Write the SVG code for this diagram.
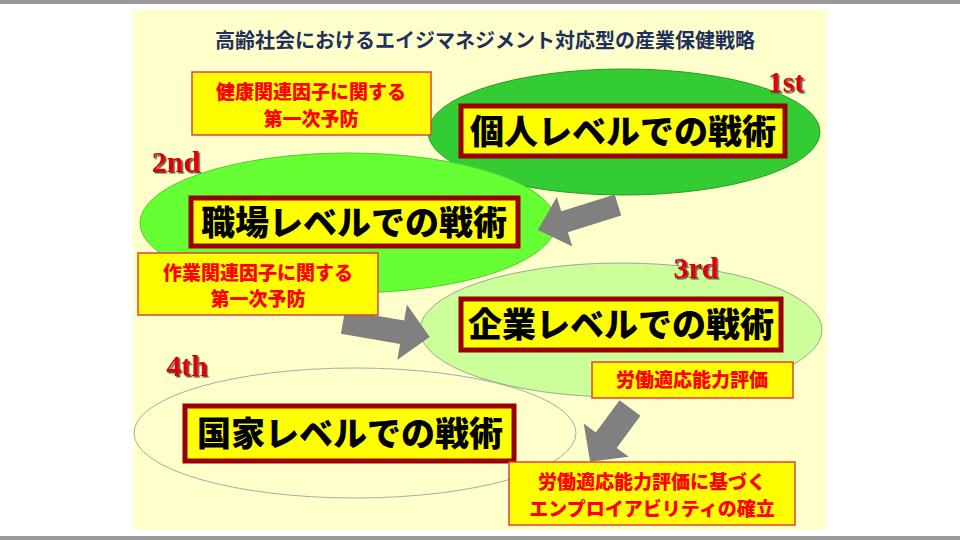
<svg xmlns="http://www.w3.org/2000/svg" width="960" height="540" viewBox="0 0 960 540">
<style>
.main{font-family:"Noto Sans CJK JP",sans-serif;font-weight:900;font-size:34px;fill:#000;text-anchor:middle}
.lab{font-family:"Noto Sans CJK JP",sans-serif;font-weight:900;font-size:19px;fill:#FF0000;text-anchor:middle}
.ord{font-family:"Liberation Serif",serif;font-weight:bold;font-size:30px;fill:#E00000;text-anchor:middle}
.box{fill:#FFFF00;stroke:#990000;stroke-width:5}
.lbox{fill:#FFFF00;stroke:#E04040;stroke-width:1.5}
.arr{fill:#808080}
</style>
<defs><filter id="sh"><feDropShadow dx="1.5" dy="1.5" stdDeviation="0.5" flood-color="#555"/></filter></defs>
<rect width="960" height="540" fill="#fff"/>
<rect x="0" y="0" width="960" height="4" fill="#999"/>
<rect x="0" y="536" width="960" height="4" fill="#999"/>
<rect x="133" y="10" width="694" height="520" fill="#FFFFCC"/>
<text x="485" y="48" style="font-family:'Noto Sans CJK JP',sans-serif;font-weight:bold;font-size:20px;fill:#1F2F5F;text-anchor:middle">高齢社会におけるエイジマネジメント対応型の産業保健戦略</text>
<g id="n1">
<ellipse cx="624" cy="132" rx="196" ry="63" fill="#33CC33" stroke="#2A9A2A" stroke-width="1"/>
<rect class="box" x="461" y="106" width="324" height="50"/>
<text class="main" x="623" y="144">個人レベルでの戦術</text>
</g>
<g id="n2">
<ellipse cx="348" cy="223" rx="208" ry="70" fill="#66FF33" stroke="#55CC33" stroke-width="1"/>
<rect class="box" x="191" y="198" width="327" height="48"/>
<text class="main" x="354" y="235">職場レベルでの戦術</text>
</g>
<g id="n3">
<ellipse cx="621" cy="330" rx="201" ry="67" fill="#CCFF99" stroke="#99AA99" stroke-width="1"/>
<rect class="box" x="461" y="299" width="320" height="51"/>
<text class="main" x="621" y="337">企業レベルでの戦術</text>
</g>
<g id="n4">
<ellipse cx="355" cy="433" rx="221" ry="65" fill="#FFFFCC" stroke="#AAAAAA" stroke-width="1"/>
<rect class="box" x="185" y="406" width="329" height="55"/>
<text class="main" x="350" y="446">国家レベルでの戦術</text>
</g>
<g id="ordinals" filter="url(#sh)">
<text class="ord" x="786" y="92">1st</text>
<text class="ord" x="176" y="172">2nd</text>
<text class="ord" x="696" y="278">3rd</text>
<text class="ord" x="187" y="376">4th</text>
</g>
<g id="connectors">
<polygon class="arr" transform="translate(618,205) rotate(162.6)" points="0,-11 56,-11 56,-26 84,0 56,26 56,11 0,11"/>
<polygon class="arr" transform="translate(343,322) rotate(9.8)" points="0,-12 60,-12 60,-28 88,0 60,28 60,12 0,12"/>
<polygon class="arr" transform="translate(630,408) rotate(126.5)" points="0,-13 40,-13 40,-28 67,0 40,28 40,13 0,13"/>
</g>
<g id="l1">
<rect class="lbox" x="192" y="72" width="239" height="63"/>
<text class="lab" x="311" y="99">健康関連因子に関する</text>
<text class="lab" x="311" y="126">第一次予防</text>
</g>
<g id="l2">
<rect class="lbox" x="138" y="253" width="240" height="62"/>
<text class="lab" x="258" y="280">作業関連因子に関する</text>
<text class="lab" x="258" y="306">第一次予防</text>
</g>
<g id="l3">
<rect class="lbox" x="592" y="362" width="201" height="36"/>
<text class="lab" x="692" y="387">労働適応能力評価</text>
</g>
<g id="l4">
<rect class="lbox" x="509" y="462" width="286" height="63"/>
<text class="lab" x="652" y="489">労働適応能力評価に基づく</text>
<text class="lab" x="652" y="516">エンプロイアビリティの確立</text>
</g>
</svg>
